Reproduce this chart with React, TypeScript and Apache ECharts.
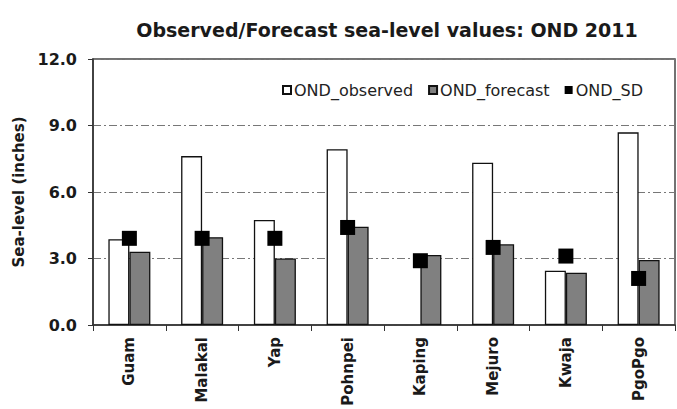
import React, { useEffect, useRef } from "react";
import * as echarts from "echarts";

const categories = ["Guam", "Malakal", "Yap", "Pohnpei", "Kaping", "Mejuro", "Kwaja", "PgoPgo"];
const observed: (number | null)[] = [3.87, 7.62, 4.74, 7.93, null, 7.32, 2.45, 8.69];
const forecast = [3.31, 3.96, 3.0, 4.43, 3.16, 3.64, 2.36, 2.93];
const sd = [3.91, 3.91, 3.91, 4.4, 2.9, 3.5, 3.11, 2.1];
const yTicks = { min: 0, max: 12, interval: 3 };

const FONT = "DejaVu Sans";

export default function App() {
  const ref = useRef<HTMLDivElement>(null);
  useEffect(() => {
    if (!ref.current) return;
    const chart = echarts.init(ref.current, undefined, { renderer: "svg" });
    chart.setOption({
      animation: false,
      backgroundColor: "#ffffff",
      title: {
        text: "Observed/Forecast sea-level values: OND 2011",
        left: 382,
        textAlign: "center",
        top: 15,
        textStyle: { fontFamily: FONT, fontWeight: "bold", fontSize: 19, color: "#1a1a1a" },
      },
      legend: {
        right: 29,
        top: 77,
        itemWidth: 8,
        itemHeight: 8,
        itemGap: 15,
        textStyle: { fontFamily: FONT, fontSize: 16, color: "#222", padding: [0, 0, 0, -2] },
        data: [
          { name: "OND_observed", icon: "rect" },
          { name: "OND_forecast", icon: "rect" },
          { name: "OND_SD", icon: "rect" },
        ],
      },
      grid: {
        left: 93,
        right: 2,
        top: 59,
        bottom: 84,
        show: true,
        borderColor: "#444",
        borderWidth: 1.5,
      },
      xAxis: {
        type: "category",
        data: categories,
        axisLine: { lineStyle: { color: "#333", width: 1.5 } },
        axisTick: { show: true, inside: false, length: 6, lineStyle: { color: "#333" } },
        axisLabel: {
          rotate: 90,
          margin: 12,
          fontFamily: FONT,
          fontWeight: "bold",
          fontSize: 15,
          color: "#1a1a1a",
          interval: 0,
        },
      },
      yAxis: {
        type: "value",
        min: yTicks.min,
        max: yTicks.max,
        interval: yTicks.interval,
        name: "Sea-level (inches)",
        nameLocation: "middle",
        nameGap: 60,
        nameTextStyle: { fontFamily: FONT, fontWeight: "bold", fontSize: 15, color: "#1a1a1a" },
        axisLine: { show: true, lineStyle: { color: "#333", width: 1.5 } },
        axisTick: { show: true, inside: false, length: 5, lineStyle: { color: "#333" } },
        axisLabel: {
          margin: 16,
          fontFamily: FONT,
          fontWeight: "bold",
          fontSize: 16,
          color: "#1a1a1a",
          formatter: (v: number) => v.toFixed(1),
        },
        splitLine: {
          show: true,
          lineStyle: { color: "#777", width: 1, type: [8, 3, 2, 3] },
        },
      },
      series: [
        {
          name: "OND_observed",
          type: "bar",
          data: observed,
          barWidth: 21,
          barGap: "0%",
          itemStyle: { color: "#ffffff", borderColor: "#111", borderWidth: 1.3 },
        },
        {
          name: "OND_forecast",
          type: "bar",
          data: forecast,
          barWidth: 21,
          barGap: "0%",
          itemStyle: { color: "#808080", borderColor: "#111", borderWidth: 1.3 },
        },
        {
          name: "OND_SD",
          type: "scatter",
          data: sd,
          symbol: "rect",
          symbolSize: 15,
          z: 5,
          itemStyle: { color: "#000000", opacity: 1 },
        },
      ],
    });
    return () => chart.dispose();
  }, []);
  return <div ref={ref} style={{ width: 677, height: 409, position: "absolute", left: 0, top: 0 }} />;
}
